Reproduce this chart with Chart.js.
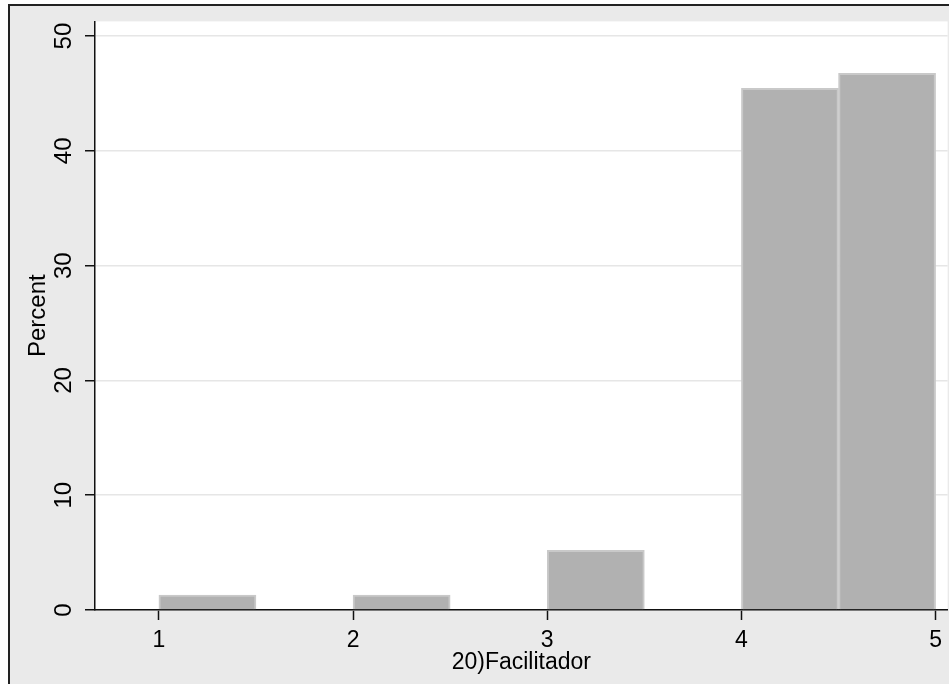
<!DOCTYPE html>
<html>
<head>
<meta charset="utf-8">
<title>20)Facilitador</title>
<script src="https://cdn.jsdelivr.net/npm/chart.js@4/dist/chart.umd.min.js"></script>
<style>
  html, body { margin: 0; padding: 0; background: #fff; }
  body { width: 949px; height: 684px; position: relative; overflow: hidden; }
  #frame {
    position: absolute; left: 8px; top: 4px; width: 941px; height: 680px;
    box-sizing: border-box; background: #eaeaea;
    border-left: 2px solid #222; border-top: 2px solid #222;
  }
  #chart { position: absolute; left: 0; top: 0; }
</style>
</head>
<body>
<div id="frame"></div>
<canvas id="chart" width="949" height="684"></canvas>
<script>
// histogram bins (width 0.5), value = percent of responses
const binCenters = [1.25, 2.25, 3.25, 4.25, 4.75];
const percents = [1.30, 1.30, 5.19, 45.45, 46.75];
const xTicks = [1, 2, 3, 4, 5];
const yTicks = [0, 10, 20, 30, 40, 50];
const xTitle = '20)Facilitador';
const yTitle = 'Percent';

const FONT = '"Liberation Sans", Arial, sans-serif';

// white plot region over the grey graph background
const plotBg = {
  id: 'plotBg',
  beforeDraw(chart) {
    const a = chart.chartArea;
    const ctx = chart.ctx;
    ctx.save();
    ctx.fillStyle = '#ffffff';
    ctx.fillRect(a.left, a.top, a.right - a.left, a.bottom - a.top);
    ctx.restore();
  }
};

function initChart() {
  const ctx = document.getElementById('chart').getContext('2d');
  new Chart(ctx, {
    type: 'bar',
    data: {
      datasets: [{
        label: yTitle,
        data: binCenters.map((x, i) => ({ x: x, y: percents[i] })),
        backgroundColor: '#b1b1b1',
        borderColor: '#c9c9c9',
        borderWidth: 2,
        barPercentage: 1,
        categoryPercentage: 1
      }]
    },
    options: {
      responsive: false,
      animation: false,
      layout: { padding: { left: 0, top: 20, right: 0, bottom: 0 } },
      plugins: {
        legend: { display: false },
        tooltip: { enabled: false }
      },
      scales: {
        x: {
          type: 'linear',
          offset: false,
          min: 0.671,
          max: 5.062,
          afterBuildTicks: s => { s.ticks = xTicks.map(v => ({ value: v })); },
          afterFit: s => { s.height = 74; },
          border: { color: '#111', width: 1.5 },
          grid: { offset: false, drawOnChartArea: false, drawTicks: true, tickLength: 10, tickColor: '#111', tickWidth: 1.5 },
          ticks: {
            color: '#000',
            padding: 7,
            maxRotation: 0,
            font: { family: FONT, size: 23 }
          },
          title: {
            display: true,
            text: xTitle,
            color: '#000',
            padding: { top: 0, bottom: 8 },
            font: { family: FONT, size: 23 }
          }
        },
        y: {
          min: 0,
          max: 51.28,
          afterBuildTicks: s => { s.ticks = yTicks.map(v => ({ value: v })); },
          afterFit: s => { s.width = 95; },
          border: { color: '#111', width: 1.5 },
          grid: { color: '#e6e6e6', lineWidth: 1.5, drawTicks: true, tickLength: 10, tickColor: '#111', tickWidth: 1.5 },
          ticks: {
            color: '#000',
            padding: 7,
            minRotation: 90,
            maxRotation: 90,
            crossAlign: 'center',
            font: { family: FONT, size: 24 }
          },
          title: {
            display: true,
            text: yTitle,
            color: '#000',
            padding: { top: 24, bottom: 0 },
            font: { family: FONT, size: 24 }
          }
        }
      }
    },
    plugins: [plotBg]
  });
}

document.addEventListener('DOMContentLoaded', initChart);
</script>
</body>
</html>
